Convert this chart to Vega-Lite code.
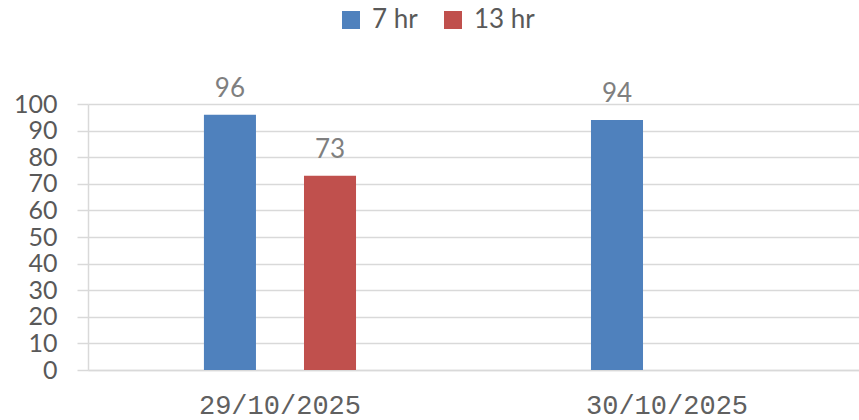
{
  "$schema": "https://vega.github.io/schema/vega-lite/v6.json",
  "autosize": "none",
  "width": 771,
  "height": 266,
  "padding": {"left": 88, "top": 104, "right": 0, "bottom": 50},
  "background": "white",
  "data": {
    "values": [
      {"date": "29/10/2025", "series": "7 hr", "value": 96},
      {"date": "29/10/2025", "series": "13 hr", "value": 73},
      {"date": "30/10/2025", "series": "7 hr", "value": 94}
    ]
  },
  "config": {
    "view": {"stroke": null},
    "font": "Lato"
  },
  "encoding": {
    "x": {
      "field": "date",
      "type": "nominal",
      "scale": {"paddingInner": 0.09, "paddingOuter": 0.041},
      "axis": {
        "title": null,
        "labelAngle": 0,
        "labelFont": "Liberation Mono",
        "labelFontSize": 27,
        "labelColor": "#606060",
        "labelPadding": 22,
        "ticks": false,
        "domainColor": "#d9d9d9",
        "domainWidth": 1.5
      }
    },
    "xOffset": {
      "field": "series",
      "type": "nominal",
      "sort": ["7 hr", "13 hr"],
      "scale": {"domain": ["7 hr", "13 hr"], "paddingInner": 0.48, "paddingOuter": 1.0}
    },
    "y": {
      "field": "value",
      "type": "quantitative",
      "scale": {"domain": [0, 100], "nice": false},
      "axis": {
        "title": null,
        "values": [0, 10, 20, 30, 40, 50, 60, 70, 80, 90, 100],
        "labelFontSize": 25,
        "labelColor": "#595959",
        "tickSize": 11,
        "tickColor": "#d9d9d9",
        "tickWidth": 1.5,
        "labelPadding": 20,
        "domainColor": "#d9d9d9",
        "domainWidth": 1.5,
        "gridColor": "#d9d9d9",
        "gridWidth": 1.5
      }
    }
  },
  "layer": [
    {
      "mark": {"type": "bar"},
      "encoding": {
        "color": {
          "field": "series",
          "type": "nominal",
          "sort": ["7 hr", "13 hr"],
          "scale": {"domain": ["7 hr", "13 hr"], "range": ["#4F81BD", "#C0504D"]},
          "legend": {
            "title": null,
            "orient": "none",
            "direction": "horizontal",
            "legendX": 250,
            "legendY": -97,
            "symbolType": "square",
            "symbolSize": 324,
            "symbolStrokeWidth": 0,
            "symbolOpacity": 1,
            "labelFontSize": 26,
            "labelColor": "#595959",
            "labelOffset": 8,
            "columnPadding": 22
          }
        }
      }
    },
    {
      "mark": {"type": "text", "baseline": "alphabetic", "dy": -18, "fontSize": 26, "color": "#7f7f7f"},
      "encoding": {
        "text": {"field": "value", "type": "quantitative"}
      }
    }
  ]
}
